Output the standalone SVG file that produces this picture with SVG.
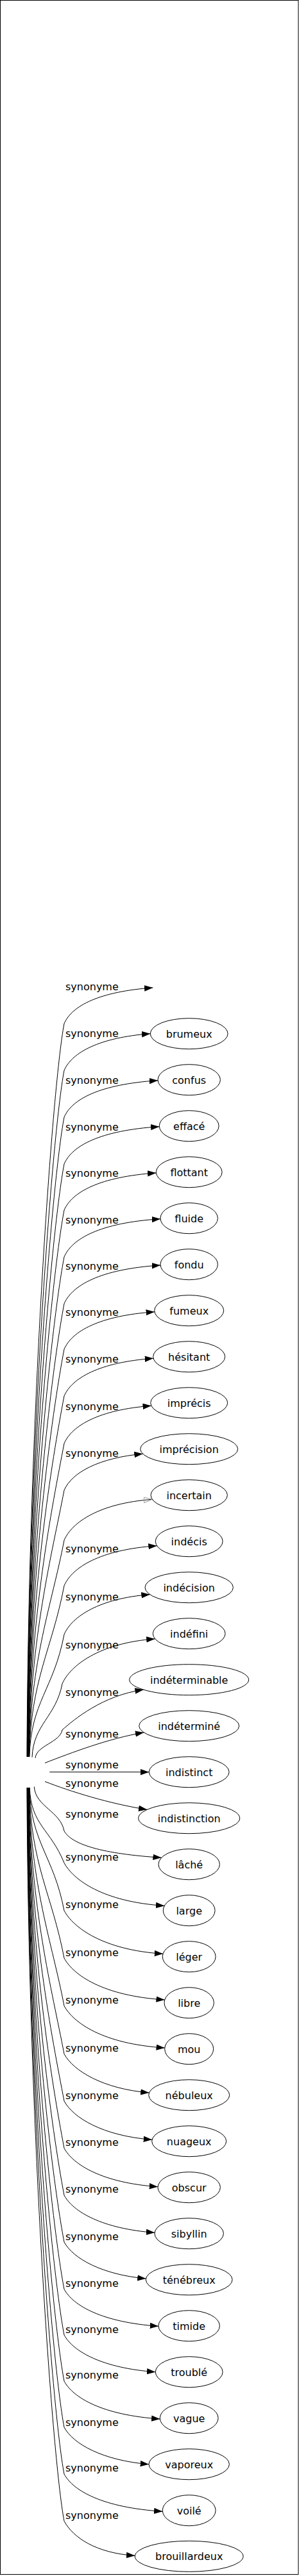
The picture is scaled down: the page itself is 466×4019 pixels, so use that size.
<svg xmlns="http://www.w3.org/2000/svg" width="466" height="4019" viewBox="0 0 466 4019">
<style>
.e{fill:none;stroke:#000;stroke-width:1;marker-end:url(#a)}
.eo{fill:none;stroke:#000;stroke-width:1;marker-end:url(#ao)}
.n ellipse{fill:none;stroke:#000;stroke-width:1}
text{font-family:"DejaVu Sans",sans-serif;font-size:16px;text-anchor:middle;fill:#000}
</style>
<defs>
<marker id="a" markerUnits="userSpaceOnUse" markerWidth="14" markerHeight="10" refX="13.3" refY="4.7" orient="auto"><path d="M0,0 L13.3,4.7 L0,9.4 z" fill="#000"/></marker>
<marker id="ao" markerUnits="userSpaceOnUse" markerWidth="14" markerHeight="10" refX="13.3" refY="4.7" orient="auto"><path d="M0.5,0.5 L13.3,4.7 L0.5,8.9 z" fill="none" stroke="#999" stroke-width="1"/></marker>
</defs>
<rect x="0.5" y="0.5" width="464.5" height="4016" fill="#fff" stroke="#000" stroke-width="1"/>
<g id="edges">
<path class="e" d="M42,2741 C44,2226.2 81,1697 100,1597 C112,1569 155,1547 238.3,1541"/>
<path class="e" d="M42.3,2741 C44.3,2259 81,1770 100,1670 C112,1642 155,1618.7 234.3,1612.7"/>
<path class="e" d="M42.6,2741 C44.6,2291.9 81,1843 100,1743 C112,1715 155,1691.7 246.1,1685.7"/>
<path class="e" d="M42.9,2741 C44.9,2324.8 81,1916 100,1816 C112,1788 155,1763.7 248.4,1757.7"/>
<path class="e" d="M43.2,2741 C45.2,2357.1 81,1988 100,1888 C112,1860 155,1836 243.4,1830"/>
<path class="e" d="M43.5,2741 C45.5,2390 81,2061 100,1961 C112,1933 155,1907.7 250.1,1901.7"/>
<path class="e" d="M43.8,2741 C45.8,2422.8 81,2134 100,2034 C112,2006 155,1980 250.1,1974"/>
<path class="e" d="M44.1,2741 C46.1,2454.8 81,2205 100,2105 C112,2077 155,2052.7 240.9,2046.7"/>
<path class="e" d="M44.4,2741 C46.4,2487.6 81,2278 100,2178 C112,2150 155,2125.3 239,2119.3"/>
<path class="e" d="M44.7,2741 C46.7,2521 81,2352 100,2252 C112,2224 155,2199.3 235.8,2193.3"/>
<path class="e" d="M45,2741 C47,2553.8 81,2425 100,2325 C112,2297 155,2274.3 222.6,2268.3"/>
<path class="eo" d="M45.3,2741 C47.3,2588.9 81,2503 100,2403 C112,2375 155,2345.3 237.3,2339.3"/>
<path class="e" d="M45.6,2741 C47.6,2620.8 81,2574 100,2474 C112,2446 155,2417.7 244.6,2411.7"/>
<path class="e" d="M45.9,2741 C47.9,2655 83.7,2636 100,2550 C112,2522 155,2493.7 233.6,2487.7"/>
<path class="e" d="M50,2741.7 C52,2690.1 87.2,2678.6 97,2627 C109,2599 155,2563 241.5,2557"/>
<path class="e" d="M55,2742.8 C57,2723.1 93.3,2718.7 97,2699 C115,2683 160,2645 223.7,2636.2"/>
<path class="e" d="M70,2750.5 C110,2735 170,2712 224.2,2703"/>
<path class="e" d="M77.3,2764.7 L232.3,2764.7"/>
<path class="e" d="M70,2779.5 C110,2795 170,2814 229.2,2823.3"/>
<path class="e" d="M53.3,2787.6 C55.3,2818.7 94.1,2825.6 100,2856.7 C112,2878 160,2892.3 251.7,2898.3"/>
<path class="e" d="M46.2,2789 C48.2,2847.8 78.8,2853.6 100,2906.5 C114,2932.5 160,2967.3 256.3,2973.3"/>
<path class="e" d="M45.9,2789 C47.9,2875.4 83.6,2894.6 100,2981 C114,3007 160,3042.3 254,3048.3"/>
<path class="e" d="M45.6,2789 C47.6,2908.7 81,2955 100,3055 C114,3081 160,3114 256.7,3120"/>
<path class="e" d="M45.3,2789 C47.3,2942.2 81,3029.5 100,3129.5 C114,3155.5 160,3189 256.8,3195"/>
<path class="e" d="M45,2789 C47,2976 81,3104.5 100,3204.5 C114,3230.5 160,3259 232.5,3265"/>
<path class="e" d="M44.7,2789 C46.7,3009 81,3178 100,3278 C114,3304 160,3332.3 237,3338.3"/>
<path class="e" d="M44.4,2789 C46.4,3042.1 81,3251.5 100,3351.5 C114,3377.5 160,3405.7 246,3411.7"/>
<path class="e" d="M44.1,2789 C46.1,3075.2 81,3325 100,3425 C114,3451 160,3477.3 241.1,3483.3"/>
<path class="e" d="M43.8,2789 C45.8,3108 81,3398 100,3498 C114,3524 160,3549 227.5,3555"/>
<path class="e" d="M43.5,2789 C45.5,3141.1 81,3471.5 100,3571.5 C114,3597.5 160,3623.3 247,3629.3"/>
<path class="e" d="M43.2,2789 C45.2,3173.3 81,3543 100,3643 C114,3669 160,3694.7 242.3,3700.7"/>
<path class="e" d="M42.9,2789 C44.9,3205.7 81,3615 100,3715 C114,3741 160,3768 249.4,3774"/>
<path class="e" d="M42.6,2789 C44.6,3238.1 81,3687 100,3787 C114,3813 160,3838.7 232,3844.7"/>
<path class="e" d="M42.3,2789 C44.3,3271 81,3760 100,3860 C114,3886 160,3912.3 253.4,3918.3"/>
<path class="e" d="M42,2789 C44,3304 81,3833.3 100,3933.3 C114,3959.3 150,3983.3 210.3,3987.3"/>
</g>
<g id="edge-labels">
<text x="143.4" y="1544.5">synonyme</text>
<text x="143.4" y="1617.8">synonyme</text>
<text x="143.4" y="1690.5">synonyme</text>
<text x="143.4" y="1763.8">synonyme</text>
<text x="143.4" y="1835.5">synonyme</text>
<text x="143.4" y="1908.8">synonyme</text>
<text x="143.4" y="1981.2">synonyme</text>
<text x="143.4" y="2052.8">synonyme</text>
<text x="143.4" y="2125.5">synonyme</text>
<text x="143.4" y="2199.5">synonyme</text>
<text x="143.4" y="2272.8">synonyme</text>
<text x="143.4" y="2421.8">synonyme</text>
<text x="143.4" y="2497.2">synonyme</text>
<text x="143.4" y="2571.8">synonyme</text>
<text x="143.4" y="2646.2">synonyme</text>
<text x="143.4" y="2711.2">synonyme</text>
<text x="143.4" y="2758.5">synonyme</text>
<text x="143.4" y="2787.8">synonyme</text>
<text x="143.4" y="2836.2">synonyme</text>
<text x="143.4" y="2902.8">synonyme</text>
<text x="143.4" y="2977.2">synonyme</text>
<text x="143.4" y="3051.8">synonyme</text>
<text x="143.4" y="3126.2">synonyme</text>
<text x="143.4" y="3201.2">synonyme</text>
<text x="143.4" y="3274.5">synonyme</text>
<text x="143.4" y="3347.8">synonyme</text>
<text x="143.4" y="3421.2">synonyme</text>
<text x="143.4" y="3494.5">synonyme</text>
<text x="143.4" y="3567.8">synonyme</text>
<text x="143.4" y="3639.5">synonyme</text>
<text x="143.4" y="3711.2">synonyme</text>
<text x="143.4" y="3784.5">synonyme</text>
<text x="143.4" y="3856.2">synonyme</text>
<text x="143.4" y="3930.2">synonyme</text>
</g>
<g id="node-brumeux" class="n"><ellipse cx="294.7" cy="1612.7" rx="60.4" ry="24"/><text x="294.7" y="1618.7">brumeux</text></g>
<g id="node-confus" class="n"><ellipse cx="294.7" cy="1684.7" rx="48.7" ry="24"/><text x="294.7" y="1690.7">confus</text></g>
<g id="node-efface" class="n"><ellipse cx="294.7" cy="1756.7" rx="46.4" ry="24"/><text x="294.7" y="1762.7">effacé</text></g>
<g id="node-flottant" class="n"><ellipse cx="294.7" cy="1828.7" rx="51.4" ry="24"/><text x="294.7" y="1834.7">flottant</text></g>
<g id="node-fluide" class="n"><ellipse cx="294.7" cy="1900.7" rx="44.7" ry="24"/><text x="294.7" y="1906.7">fluide</text></g>
<g id="node-fondu" class="n"><ellipse cx="294.7" cy="1972.7" rx="44.7" ry="24"/><text x="294.7" y="1978.7">fondu</text></g>
<g id="node-fumeux" class="n"><ellipse cx="294.7" cy="2044.7" rx="54" ry="24"/><text x="294.7" y="2050.7">fumeux</text></g>
<g id="node-hesitant" class="n"><ellipse cx="294.7" cy="2116.7" rx="56" ry="24"/><text x="294.7" y="2122.7">hésitant</text></g>
<g id="node-imprecis" class="n"><ellipse cx="294.7" cy="2188.7" rx="60" ry="24"/><text x="294.7" y="2194.7">imprécis</text></g>
<g id="node-imprecision" class="n"><ellipse cx="294.7" cy="2260.7" rx="76" ry="24"/><text x="294.7" y="2266.7">imprécision</text></g>
<g id="node-incertain" class="n"><ellipse cx="294.7" cy="2332.7" rx="59.7" ry="24"/><text x="294.7" y="2338.7">incertain</text></g>
<g id="node-indecis" class="n"><ellipse cx="294.7" cy="2404.7" rx="52.4" ry="24"/><text x="294.7" y="2410.7">indécis</text></g>
<g id="node-indecision" class="n"><ellipse cx="294.7" cy="2476.7" rx="68.7" ry="24"/><text x="294.7" y="2482.7">indécision</text></g>
<g id="node-indefini" class="n"><ellipse cx="294.7" cy="2548.7" rx="56.4" ry="24"/><text x="294.7" y="2554.7">indéfini</text></g>
<g id="node-indeterminable" class="n"><ellipse cx="294.7" cy="2620.7" rx="93" ry="24"/><text x="294.7" y="2626.7">indéterminable</text></g>
<g id="node-indetermine" class="n"><ellipse cx="294.7" cy="2692.7" rx="78" ry="24"/><text x="294.7" y="2698.7">indéterminé</text></g>
<g id="node-indistinct" class="n"><ellipse cx="294.7" cy="2764.7" rx="62.4" ry="24"/><text x="294.7" y="2770.7">indistinct</text></g>
<g id="node-indistinction" class="n"><ellipse cx="294.7" cy="2836.7" rx="79" ry="24"/><text x="294.7" y="2842.7">indistinction</text></g>
<g id="node-lache" class="n"><ellipse cx="294.7" cy="2908.7" rx="47.7" ry="24"/><text x="294.7" y="2914.7">lâché</text></g>
<g id="node-large" class="n"><ellipse cx="294.7" cy="2980.7" rx="40.4" ry="24"/><text x="294.7" y="2986.7">large</text></g>
<g id="node-leger" class="n"><ellipse cx="294.7" cy="3052.7" rx="41.4" ry="24"/><text x="294.7" y="3058.7">léger</text></g>
<g id="node-libre" class="n"><ellipse cx="294.7" cy="3124.7" rx="38.7" ry="24"/><text x="294.7" y="3130.7">libre</text></g>
<g id="node-mou" class="n"><ellipse cx="294.7" cy="3196.7" rx="38" ry="24"/><text x="294.7" y="3202.7">mou</text></g>
<g id="node-nebuleux" class="n"><ellipse cx="294.7" cy="3268.7" rx="63" ry="24"/><text x="294.7" y="3274.7">nébuleux</text></g>
<g id="node-nuageux" class="n"><ellipse cx="294.7" cy="3340.7" rx="58" ry="24"/><text x="294.7" y="3346.7">nuageux</text></g>
<g id="node-obscur" class="n"><ellipse cx="294.7" cy="3412.7" rx="48.7" ry="24"/><text x="294.7" y="3418.7">obscur</text></g>
<g id="node-sibyllin" class="n"><ellipse cx="294.7" cy="3484.7" rx="53.7" ry="24"/><text x="294.7" y="3490.7">sibyllin</text></g>
<g id="node-tenebreux" class="n"><ellipse cx="294.7" cy="3556.7" rx="67.4" ry="24"/><text x="294.7" y="3562.7">ténébreux</text></g>
<g id="node-timide" class="n"><ellipse cx="294.7" cy="3628.7" rx="47.7" ry="24"/><text x="294.7" y="3634.7">timide</text></g>
<g id="node-trouble" class="n"><ellipse cx="294.7" cy="3700.7" rx="52.4" ry="24"/><text x="294.7" y="3706.7">troublé</text></g>
<g id="node-vague" class="n"><ellipse cx="294.7" cy="3772.7" rx="45.4" ry="24"/><text x="294.7" y="3778.7">vague</text></g>
<g id="node-vaporeux" class="n"><ellipse cx="294.7" cy="3844.7" rx="62.7" ry="24"/><text x="294.7" y="3850.7">vaporeux</text></g>
<g id="node-voile" class="n"><ellipse cx="294.7" cy="3916.7" rx="41.4" ry="24"/><text x="294.7" y="3922.7">voilé</text></g>
<g id="node-brouillardeux" class="n"><ellipse cx="294.7" cy="3988.3" rx="84.4" ry="24"/><text x="294.7" y="3994.3">brouillardeux</text></g>
</svg>
